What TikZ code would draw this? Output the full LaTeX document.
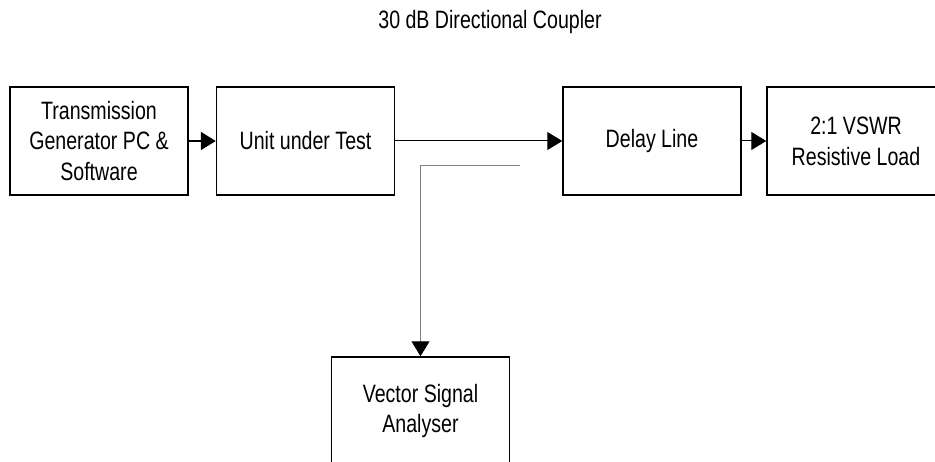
\documentclass[tikz,border=0pt]{standalone}
\usepackage{fontspec}
\setmainfont[FakeStretch=0.78]{Liberation Sans}
\usetikzlibrary{arrows.meta}

\begin{document}
\begin{tikzpicture}[x=0.02cm, y=0.02cm, font=\fontsize{14.3pt}{17.6pt}\selectfont]
	\tikzstyle{block}  = [rectangle, draw=black, line width=0.03cm, fill=white, minimum width=3.56cm, minimum height=2.16cm, inner sep=0pt, align=center]
	\tikzstyle{flow}   = [-{Triangle[length=0.3cm, width=0.36cm, color=black]}, line width=0.02cm]
	\useasboundingbox (0,0) rectangle (935,462);

	\foreach \name/\x/\y/\lbl in {tgen/99/321/{Transmission\\Generator PC \&\\Software}, uut/305.5/321/{Unit under Test}, delay/652/321/{Delay Line}, load/856/321/{2:1 VSWR\\Resistive Load}, vsa/420.5/51/{Vector Signal\\Analyser}}
		\node[block] (\name) at (\x, \y) {\lbl};

	\node (title) at (490, 440) {30 dB Directional Coupler};
	\coordinate (cpl) at (520, 296);

	\draw[flow, line width=0.04cm] (tgen) -- (uut);
	\foreach \from/\to in {uut/delay, delay/load}
		\draw[flow] (\from) -- (\to);

	\draw[flow, draw=gray] (cpl) -| (vsa.north);
\end{tikzpicture}
\end{document}
